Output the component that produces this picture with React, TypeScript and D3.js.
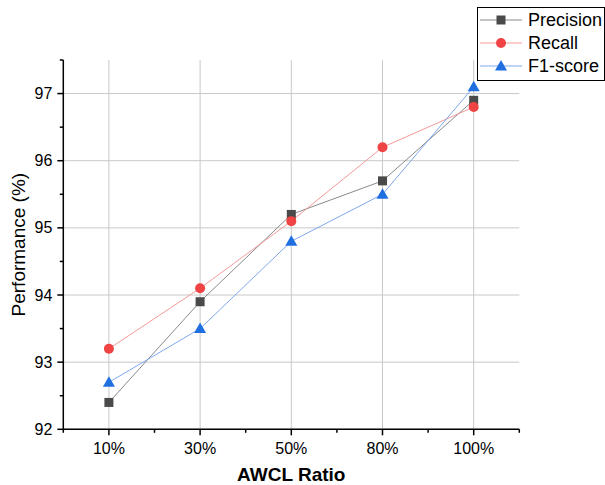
import React from "react";
import * as d3 from "d3";

const categories = ["10%", "30%", "50%", "80%", "100%"];
const precision = [92.4, 93.9, 95.2, 95.7, 96.9];
const recall = [93.2, 94.1, 95.1, 96.2, 96.8];
const f1 = [92.7, 93.5, 94.8, 95.5, 97.1];
const yTicks = [92, 93, 94, 95, 96, 97];
const yMinor = [92.5, 93.5, 94.5, 95.5, 96.5, 97.5];

const W = 605, H = 485;
const L = 63.3, R = 519.3, T = 60, B = 429.3;
const FONT = "Liberation Sans, Arial, sans-serif";

const series = [
  { name: "Precision", values: precision, color: "#4a4a4a", line: "#8a8a8a", shape: "square" },
  { name: "Recall", values: recall, color: "#f04444", line: "#f59a9a", shape: "circle" },
  { name: "F1-score", values: f1, color: "#1f6fe0", line: "#7fa9ee", shape: "triangle" },
];

function Marker({ shape, x, y, color }: { shape: string; x: number; y: number; color: string }) {
  if (shape === "square") return <rect x={x - 4.5} y={y - 4.5} width={9} height={9} fill={color} />;
  if (shape === "circle") return <circle cx={x} cy={y} r={5} fill={color} />;
  return <path d={`M${x},${y - 6} L${x + 6},${y + 4.5} L${x - 6},${y + 4.5} Z`} fill={color} />;
}

export default function App() {
  const x = d3.scaleLinear().domain([-0.5, 4.5]).range([L, R]);
  const y = d3.scaleLinear().domain([92, 97.5]).range([B, T]);
  const line = d3.line<number>().x((_, i) => x(i)).y((v) => y(v));
  const xMinor = d3.range(-0.5, 5, 1);

  return (
    <svg width={W} height={H} style={{ position: "absolute", left: 0, top: 0 }} fontFamily={FONT}>
      <rect width={W} height={H} fill="#fff" />
      {yTicks.map((t) => (
        <line key={"gy" + t} x1={L} x2={R} y1={y(t)} y2={y(t)} stroke="#c8c8c8" strokeWidth={1} />
      ))}
      {categories.map((c, i) => (
        <line key={"gx" + c} x1={x(i)} x2={x(i)} y1={T} y2={B} stroke="#c8c8c8" strokeWidth={1} />
      ))}
      {series.map((s) => (
        <path key={s.name} d={line(s.values) || ""} fill="none" stroke={s.line} strokeWidth={1} />
      ))}
      {series.map((s) =>
        s.values.map((v, i) => <Marker key={s.name + i} shape={s.shape} x={x(i)} y={y(v)} color={s.color} />)
      )}
      <line x1={L} x2={L} y1={T} y2={B} stroke="#000" strokeWidth={1.5} />
      <line x1={L} x2={R} y1={B} y2={B} stroke="#000" strokeWidth={1.5} />
      {yTicks.map((t) => (
        <g key={"yt" + t}>
          <line x1={L - 6} x2={L} y1={y(t)} y2={y(t)} stroke="#000" strokeWidth={1.5} />
          <text x={L - 11} y={y(t) + 5.5} textAnchor="end" fontSize={16}>{t}</text>
        </g>
      ))}
      {yMinor.map((t) => (
        <line key={"ym" + t} x1={L - 3.5} x2={L} y1={y(t)} y2={y(t)} stroke="#000" strokeWidth={1.5} />
      ))}
      {categories.map((c, i) => (
        <g key={"xt" + c}>
          <line x1={x(i)} x2={x(i)} y1={B} y2={B + 6} stroke="#000" strokeWidth={1.5} />
          <text x={x(i)} y={B + 25} textAnchor="middle" fontSize={16}>{c}</text>
        </g>
      ))}
      {xMinor.map((t) => (
        <line key={"xm" + t} x1={x(t)} x2={x(t)} y1={B} y2={B + 3.5} stroke="#000" strokeWidth={1.5} />
      ))}
      <text x={(L + R) / 2} y={481} textAnchor="middle" fontSize={19} fontWeight="bold">AWCL Ratio</text>
      <text transform={`translate(25,${(T + B) / 2}) rotate(-90)`} textAnchor="middle" fontSize={19}>Performance (%)</text>
      <rect x={477.5} y={7.5} width={127} height={73} fill="#fff" stroke="#000" strokeWidth={1} />
      {series.map((s, i) => {
        const ly = 20 + i * 23;
        return (
          <g key={"lg" + s.name}>
            <line x1={480} x2={522} y1={ly} y2={ly} stroke={s.line} strokeWidth={1} />
            <Marker shape={s.shape} x={501} y={ly} color={s.color} />
            <text x={528} y={ly + 6} fontSize={18}>{s.name}</text>
          </g>
        );
      })}
    </svg>
  );
}
